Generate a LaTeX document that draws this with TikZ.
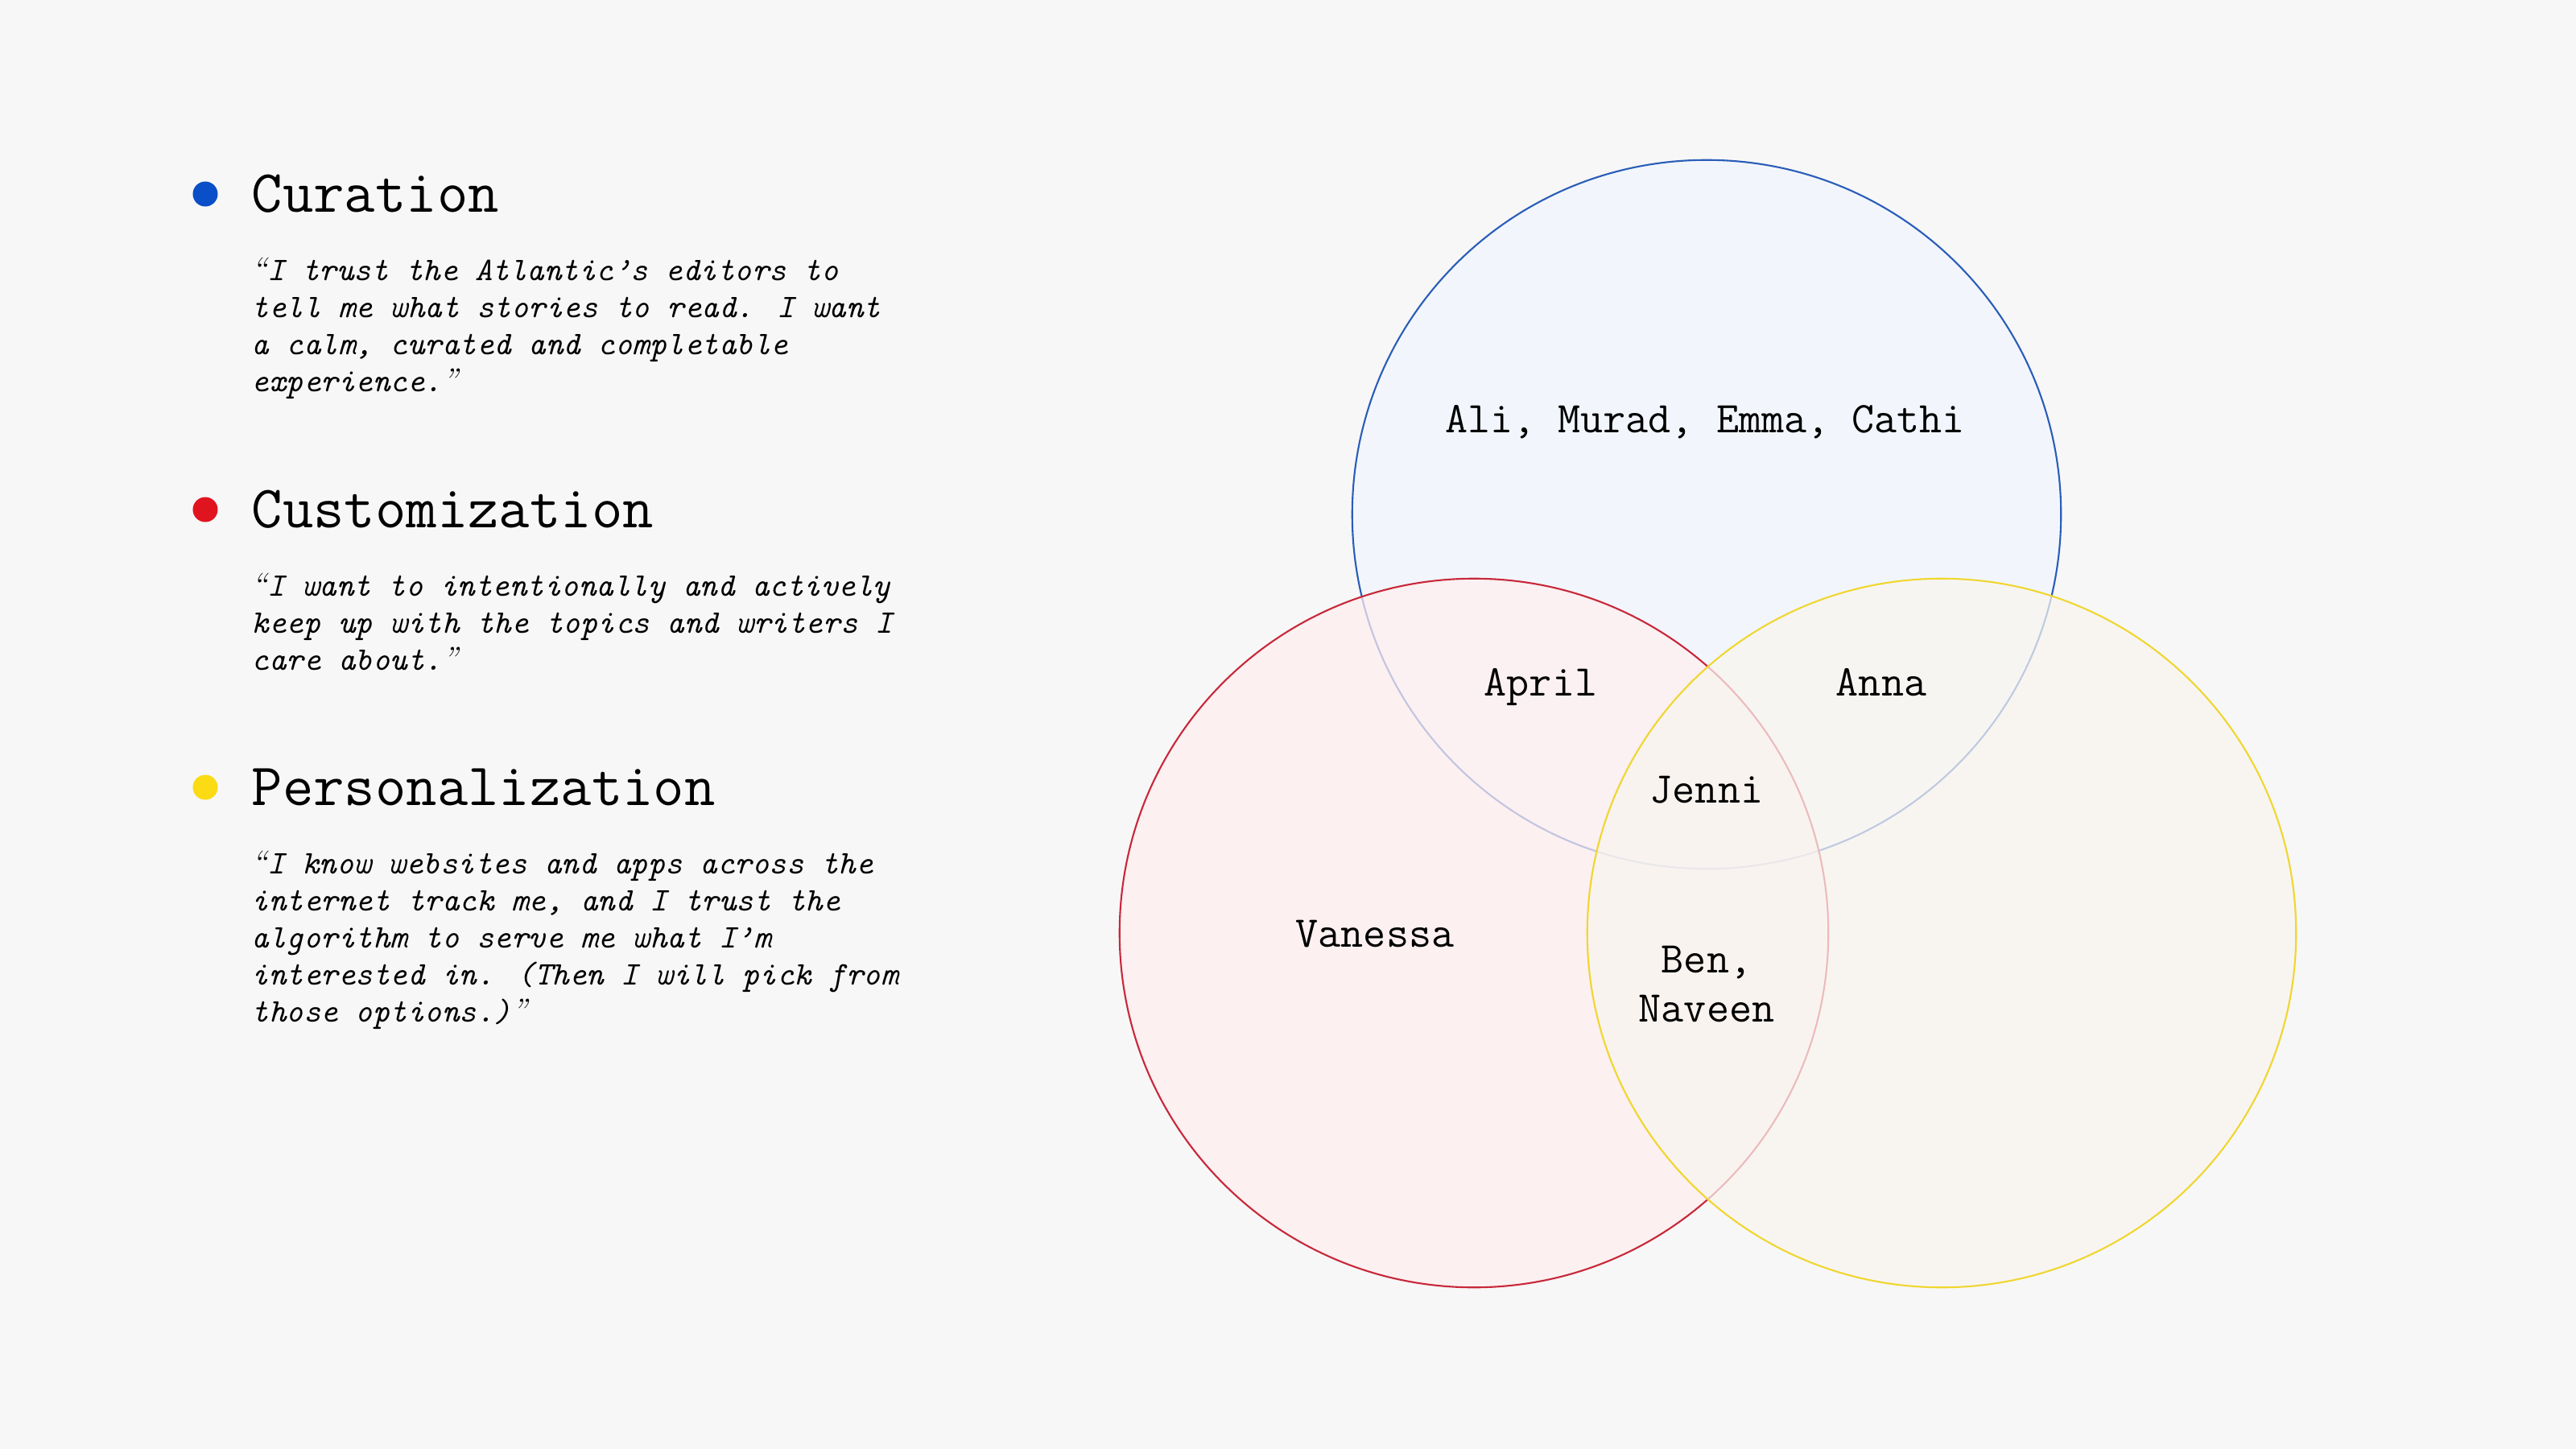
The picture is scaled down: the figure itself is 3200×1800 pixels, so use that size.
\documentclass[tikz,border=0pt]{standalone}
\usepackage{fontspec}
\newcommand{\qlft}{{\rmfamily\itshape “}}
\newcommand{\qrgt}{{\rmfamily\itshape ”}}
\definecolor{bg}{HTML}{F7F7F7}
\definecolor{cblue}{HTML}{0A4FC8}
\definecolor{cred}{HTML}{E0141F}
\definecolor{cyel}{HTML}{FADB14}
\definecolor{sblue}{HTML}{2A5DB8}
\definecolor{sred}{HTML}{C8283A}
\definecolor{syel}{HTML}{F0D630}
\definecolor{fblue}{HTML}{F2F6FC}
\definecolor{fred}{HTML}{FFEEEF}
\definecolor{fyel}{HTML}{F9F5EF}
\tikzset{
  dot/.style={circle, inner sep=0pt, minimum size=0.31cm},
  title/.style={anchor=base west, inner sep=0pt, font=\fontsize{21.2pt}{24pt}\selectfont\ttfamily},
  quote/.style={anchor=north west, inner sep=0pt, align=left, font=\fontsize{11.65pt}{13.1pt}\selectfont\ttfamily\itshape},
  vlabel/.style={inner sep=0pt, align=center, font=\fontsize{15.5pt}{17.4pt}\selectfont\ttfamily},
  venn/.style={circle, inner sep=0pt, minimum size=8.8cm, line width=0.6pt}
}
\begin{document}
\begin{tikzpicture}[x=0.01cm, y=-0.01cm]
\fill[bg] (0,0) rectangle (3200,1800);
\useasboundingbox (0,0) rectangle (3200,1800);
% legend
\node[dot, fill=cblue] (d1) at (255,241) {};
\node[title] (t1) at (312,263) {Curation};
\node[quote] (q1) at (312,319) {\qlft I trust the Atlantic’s editors to\\tell me what stories to read. I want\\a calm, curated and completable\\experience.\qrgt};
\node[dot, fill=cred] (d2) at (255,633) {};
\node[title] (t2) at (312,655) {Customization};
\node[quote] (q2) at (312,711) {\qlft I want to intentionally and actively\\keep up with the topics and writers I\\care about.\qrgt};
\node[dot, fill=cyel] (d3) at (255,978) {};
\node[title] (t3) at (312,1000) {Personalization};
\node[quote] (q3) at (312,1056) {\qlft I know websites and apps across the\\internet track me, and I trust the\\algorithm to serve me what I’m\\interested in. (Then I will pick from\\those options.)\qrgt};
% venn circles
\node[venn, draw=sblue, fill=fblue] (cb) at (2120,639) {};
\node[venn, draw=sred, fill=fred, fill opacity=0.72] (cr) at (1831,1159) {};
\node[venn, draw=syel, fill=fyel, fill opacity=0.72] (cy) at (2412,1159) {};
% labels
\node[vlabel, anchor=base] (l1) at (2118,537) {Ali, Murad, Emma, Cathi};
\node[vlabel, anchor=base] (l2) at (1914,864) {April};
\node[vlabel, anchor=base] (l3) at (2337,864) {Anna};
\node[vlabel, anchor=base] (l4) at (2120,997) {Jenni};
\node[vlabel, anchor=base] (l5) at (1708,1176) {Vanessa};
\node[vlabel, anchor=north] (l6) at (2120,1174) {Ben,\\Naveen};
\end{tikzpicture}
\end{document}
